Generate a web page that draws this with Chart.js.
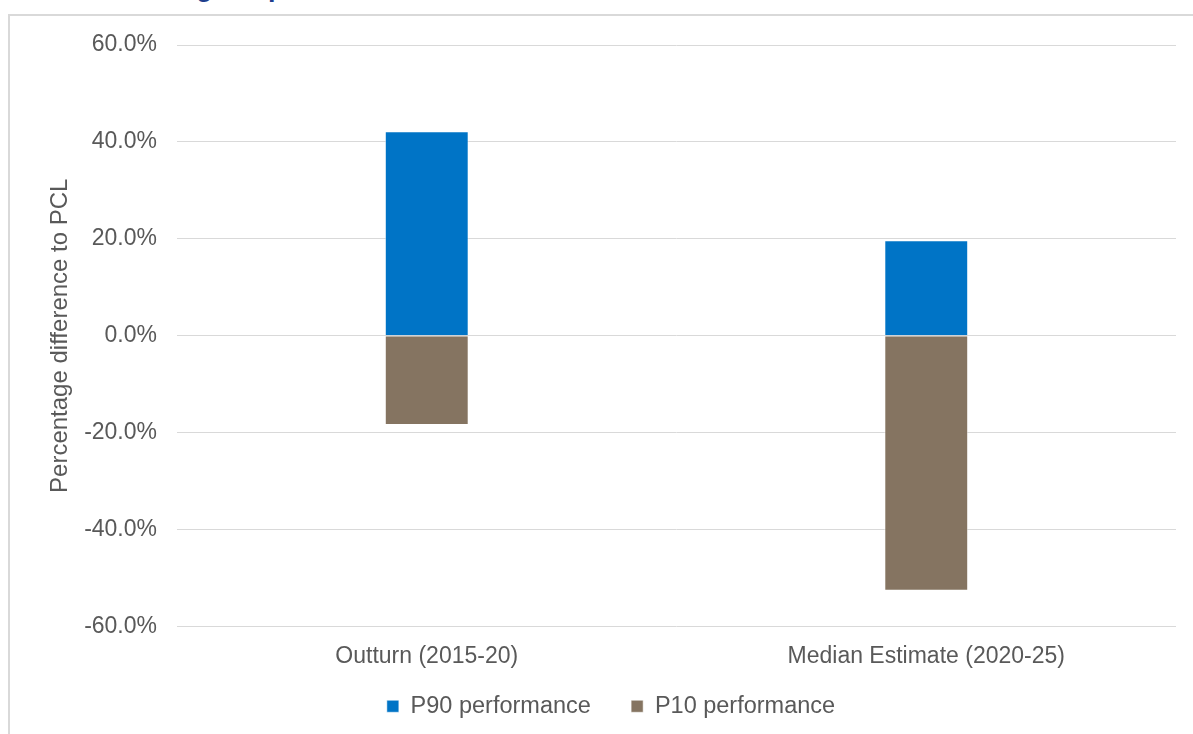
<!DOCTYPE html>
<html>
<head>
<meta charset="utf-8">
<script src="https://cdn.jsdelivr.net/npm/chart.js@4.4.1/dist/chart.umd.min.js"></script>
<style>
  html, body { margin: 0; padding: 0; background: #fff; overflow: hidden; }
  #wrap { position: relative; width: 1193px; height: 734px; }
  #title { position: absolute; left: 145px; top: -28px; font: bold 27px "Liberation Sans", Arial, sans-serif; color: #1f3f8c; white-space: nowrap; }
  #frame { position: absolute; left: 8px; top: 14px; width: 1200px; height: 740px; border-left: 2px solid #d9d9d9; border-top: 2px solid #d9d9d9; }
  #c { position: absolute; left: 0; top: 0; }
</style>
</head>
<body>
<div id="wrap">
  <div id="title">Range of performance</div>
  <div id="frame"></div>
  <canvas id="c" width="1193" height="734"></canvas>
</div>
<script>
// === DATA ===
const categories = ["Outturn (2015-20)", "Median Estimate (2020-25)"];
const p90Values = [42.2, 19.7];
const p10Values = [-18.4, -52.6];
const yTicks = [-60, -40, -20, 0, 20, 40, 60];

const FONT = "'Liberation Sans', Arial, sans-serif";
const GREY = "#595959";

new Chart(document.getElementById("c"), {
  type: "bar",
  data: {
    labels: categories,
    datasets: [
      { label: "P90 performance", data: p90Values, backgroundColor: "#0074c6", borderColor: "rgba(255,255,255,0.5)", borderWidth: 1, stack: "s" },
      { label: "P10 performance", data: p10Values, backgroundColor: "#857461", borderColor: "rgba(255,255,255,0.5)", borderWidth: 1, stack: "s" }
    ]
  },
  options: {
    responsive: false,
    animation: false,
    layout: { padding: { left: 46, right: 17, top: 45, bottom: 6 } },
    datasets: { bar: { barPercentage: 1, categoryPercentage: 0.168 } },
    plugins: {
      tooltip: { enabled: false },
      legend: {
        position: "bottom",
        labels: {
          font: { family: FONT, size: 23.5 }, color: GREY, boxWidth: 12, boxHeight: 12, padding: 22,
          generateLabels: chart => Chart.defaults.plugins.legend.labels.generateLabels(chart)
            .map((l, i) => ({ ...l, text: i === 0 ? l.text + "\u2002 " : l.text }))
        }
      }
    },
    scales: {
      x: {
        stacked: true,
        grid: { display: false, drawTicks: false },
        border: { display: false },
        ticks: { font: { family: FONT, size: 23 }, color: GREY, padding: 16 },
        afterFit: s => { s.height = 46; }
      },
      y: {
        stacked: true,
        min: -60, max: 60,
        afterBuildTicks: s => { s.ticks = yTicks.map(v => ({ value: v })); },
        grid: { color: "#d9d9d9", lineWidth: 1, drawTicks: false },
        border: { display: false },
        ticks: { font: { family: FONT, size: 23 }, color: GREY, padding: 20, callback: v => v.toFixed(1) + "%" },
        title: { display: true, text: "Percentage difference to PCL", font: { family: FONT, size: 24 }, color: GREY, padding: { top: 0, bottom: 0 } },
        afterFit: s => { s.width = 131; }
      }
    }
  }
});
</script>
</body>
</html>
